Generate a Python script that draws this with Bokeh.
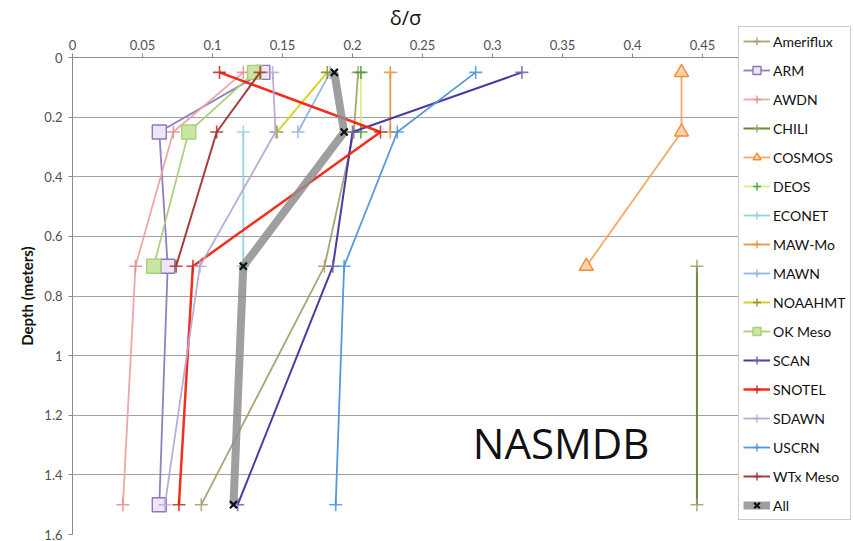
from bokeh.plotting import figure
from bokeh.models import Range1d, FixedTicker, Legend, LegendItem, Label
from bokeh.embed import file_html
from bokeh.resources import INLINE

# ---- data ----
x_ticks = [0, 0.05, 0.1, 0.15, 0.2, 0.25, 0.3, 0.35, 0.4, 0.45]
x_tick_labels = ["0", "0.05", "0.1", "0.15", "0.2", "0.25", "0.3", "0.35", "0.4", "0.45"]
y_ticks = [0, 0.2, 0.4, 0.6, 0.8, 1.0, 1.2, 1.4, 1.6]
y_tick_labels = ["0", "0.2", "0.4", "0.6", "0.8", "1", "1.2", "1.4", "1.6"]

names = ["Ameriflux", "ARM", "AWDN", "CHILI", "COSMOS", "DEOS", "ECONET", "MAW-Mo",
         "MAWN", "NOAAHMT", "OK Meso", "SCAN", "SNOTEL", "SDAWN", "USCRN", "WTx Meso", "All"]

ameriflux_depth = [0.05, 0.25, 0.7, 1.5]
ameriflux_val = [0.204, 0.201, 0.180, 0.092]
arm_depth = [0.05, 0.25, 0.7, 1.5]
arm_val = [0.136, 0.062, 0.068, 0.062]
awdn_depth = [0.05, 0.25, 0.7, 1.5]
awdn_val = [0.122, 0.072, 0.045, 0.036]
chili_depth = [0.7, 1.5]
chili_val = [0.446, 0.446]
cosmos_depth = [0.05, 0.25, 0.7]
cosmos_val = [0.435, 0.435, 0.367]
deos_depth = [0.05, 0.25]
deos_val = [0.206, 0.206]
econet_depth = [0.25, 0.7]
econet_val = [0.122, 0.122]
mawmo_depth = [0.05, 0.25]
mawmo_val = [0.227, 0.227]
mawn_depth = [0.05, 0.25]
mawn_val = [0.184, 0.161]
noaahmt_depth = [0.05, 0.25]
noaahmt_val = [0.182, 0.146]
okmeso_depth = [0.05, 0.25, 0.7]
okmeso_val = [0.130, 0.083, 0.058]
scan_depth = [0.05, 0.25, 0.7, 1.5]
scan_val = [0.321, 0.200, 0.186, 0.118]
snotel_depth = [0.05, 0.25, 0.7, 1.5]
snotel_val = [0.105, 0.220, 0.086, 0.076]
sdawn_depth = [0.05, 0.25, 0.7, 1.5]
sdawn_val = [0.143, 0.145, 0.091, 0.066]
uscrn_depth = [0.05, 0.25, 0.7, 1.5]
uscrn_val = [0.288, 0.232, 0.194, 0.188]
wtx_depth = [0.05, 0.25, 0.7]
wtx_val = [0.134, 0.103, 0.074]
all_depth = [0.05, 0.25, 0.7, 1.5]
all_val = [0.187, 0.194, 0.122, 0.115]

series_vals = [ameriflux_val, arm_val, awdn_val, chili_val, cosmos_val, deos_val, econet_val,
               mawmo_val, mawn_val, noaahmt_val, okmeso_val, scan_val, snotel_val, sdawn_val,
               uscrn_val, wtx_val, all_val]
series_depths = [ameriflux_depth, arm_depth, awdn_depth, chili_depth, cosmos_depth, deos_depth,
                 econet_depth, mawmo_depth, mawn_depth, noaahmt_depth, okmeso_depth, scan_depth,
                 snotel_depth, sdawn_depth, uscrn_depth, wtx_depth, all_depth]

# ---- styles ----
line_colors = ["#A99E6E", "#8C78BC", "#E9A3A3", "#5F7F2E", "#F5A35E", "#D8EC86", "#8ED3E3",
               "#E8913C", "#8DB5E2", "#D2D21E", "#A9CF7B", "#3F309F", "#F2230F", "#B7A9D6",
               "#4E93D9", "#A3332F", "#8E8E8E"]
marker_colors = ["#A99E6E", "#8C78BC", "#E48C8C", "#8FA865", "#F08C3A", "#2F9E2F", "#8ED3E3",
                 "#E8913C", "#8DB5E2", "#8A8A1C", "#A9CF7B", "#6A60B0", "#C8261A", "#B7A9D6",
                 "#4E93D9", "#A3332F", "#111111"]
marker_fill = [None, "#EDE6F6", None, None, "#FBD3AE", None, None, None, None, None, "#C9E7A3",
               None, None, None, None, None, None]
markers = ["cross", "square", "cross", "cross", "triangle", "cross", "cross", "cross", "cross",
           "cross", "square", "cross", "cross", "cross", "cross", "cross", "x"]
marker_sizes = [13, 14, 13, 13, 14, 13, 13, 13, 13, 13, 14, 13, 13, 13, 13, 13, 10]
line_widths = [1.8, 1.8, 1.8, 2, 1.8, 1.8, 1.8, 1.8, 1.8, 2, 1.8, 2, 2.5, 1.8, 1.8, 2, 8]

p = figure(frame_width=666, frame_height=477,
           x_range=Range1d(0, 0.4757), y_range=Range1d(1.6, 0),
           x_axis_location="above",
           output_backend="svg", toolbar_location=None,
           min_border_left=72, min_border_right=0, min_border_top=57, min_border_bottom=7)
p.outline_line_color = None
p.background_fill_color = "white"
p.border_fill_color = "white"

p.xgrid.visible = False
p.ygrid.grid_line_color = "#A2A2A2"
p.ygrid.grid_line_width = 1.2

p.xaxis.ticker = FixedTicker(ticks=x_ticks)
p.xaxis.major_label_overrides = {t: l for t, l in zip(x_ticks, x_tick_labels)}
p.yaxis.ticker = FixedTicker(ticks=y_ticks)
p.yaxis.major_label_overrides = {t: l for t, l in zip(y_ticks, y_tick_labels)}

for ax in (p.xaxis[0], p.yaxis[0]):
    ax.axis_line_color = "#8A8A8A"
    ax.major_tick_line_color = "#8A8A8A"
    ax.minor_tick_line_color = None
    ax.major_tick_in = 0
    ax.major_tick_out = 4
    ax.major_label_text_font = "Lato"
    ax.major_label_text_font_size = "13px"
    ax.major_label_text_color = "#505050"

p.xaxis.axis_label = "δ/σ"
p.xaxis.axis_label_text_font = "Open Sans"
p.xaxis.axis_label_text_font_style = "normal"
p.xaxis.axis_label_text_font_size = "20px"
p.xaxis.axis_label_text_color = "#111111"
p.xaxis.major_label_standoff = 4
p.xaxis.axis_label_standoff = 6

p.yaxis.axis_label = "Depth (meters)"
p.yaxis.axis_label_text_font = "Lato"
p.yaxis.axis_label_text_font_style = "bold"
p.yaxis.axis_label_text_font_size = "15px"
p.yaxis.axis_label_text_color = "#111111"
p.yaxis.major_label_standoff = 6
p.yaxis.axis_label_standoff = 5

items = []
for i, name in enumerate(names):
    rl = p.line(series_vals[i], series_depths[i], line_color=line_colors[i],
                line_width=line_widths[i], line_alpha=0.95 if i < 16 else 0.85)
    if marker_fill[i] is None:
        rs = p.scatter(series_vals[i], series_depths[i], marker=markers[i], size=marker_sizes[i],
                       line_color=marker_colors[i], line_width=1.6 if i < 16 else 2.2,
                       fill_color=None, line_alpha=0.85 if i < 16 else 1.0)
    else:
        rs = p.scatter(series_vals[i], series_depths[i], marker=markers[i], size=marker_sizes[i],
                       line_color=marker_colors[i], line_width=1.4,
                       fill_color=marker_fill[i])
    items.append(LegendItem(label=name, renderers=[rl, rs]))

legend = Legend(items=items, location=(0, 14))
legend.label_text_font = "Lato"
legend.label_text_font_size = "14px"
legend.label_text_color = "#111111"
legend.glyph_width = 27
legend.glyph_height = 20
legend.label_height = 20
legend.spacing = 9
legend.padding = 4
legend.margin = 0
legend.label_standoff = 3
legend.border_line_color = "#9A9A9A"
legend.border_line_width = 1
legend.background_fill_color = "white"
legend.background_fill_alpha = 1.0
p.add_layout(legend, "right")

p.add_layout(Label(x=0.349, y=1.29, text="NASMDB", text_font="Open Sans",
                   text_font_size="42px", text_color="#111111",
                   text_align="center", text_baseline="middle"))

open("out.html", "w").write(file_html(p, INLINE))
